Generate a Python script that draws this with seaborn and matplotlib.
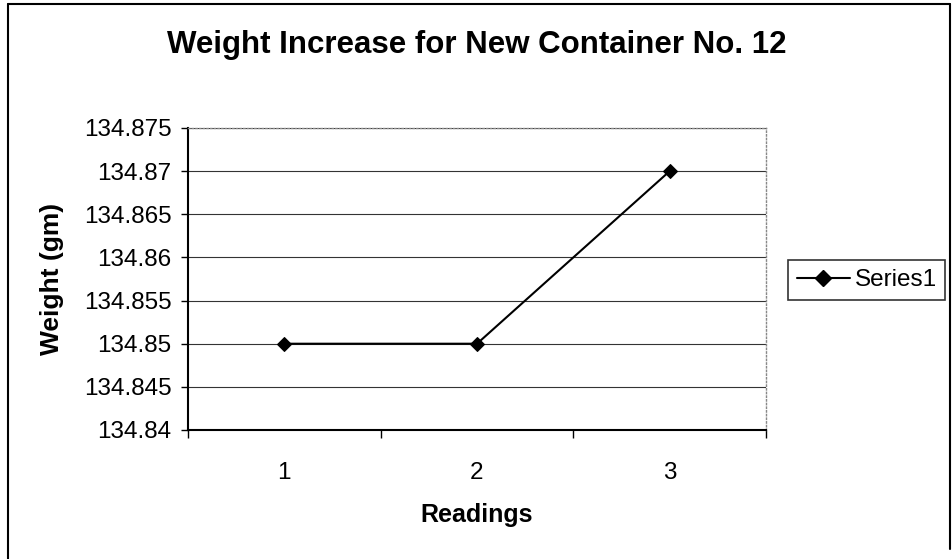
import matplotlib
matplotlib.use("Agg")
import matplotlib.pyplot as plt
import seaborn as sns
import pandas as pd
from matplotlib.lines import Line2D

readings = [1, 2, 3]
weights = [134.85, 134.85, 134.87]
y_ticks = [134.84, 134.845, 134.85, 134.855, 134.86, 134.865, 134.87, 134.875]
y_tick_labels = ["134.84", "134.845", "134.85", "134.855", "134.86", "134.865", "134.87", "134.875"]
series_name = "Series1"

df = pd.DataFrame({"Readings": readings, "Weight": weights, "Series": series_name})

sns.set_style("white")
plt.rcParams['font.family'] = ['Liberation Sans', 'DejaVu Sans']
plt.rcParams['text.color'] = 'black'
plt.rcParams['axes.labelcolor'] = 'black'
plt.rcParams['xtick.color'] = 'black'
plt.rcParams['ytick.color'] = 'black'

fig = plt.figure(figsize=(9.53, 5.59), dpi=100)
ax = fig.add_axes([188/953, 1-430/559, (766-188)/953, (430-128)/559])

sns.lineplot(data=df, x="Readings", y="Weight", ax=ax, color="black", marker="D",
             markersize=7, linewidth=1.5, markeredgecolor="black", legend=False)

ax.set_xlim(0.5, 3.5)
ax.set_ylim(134.84, 134.875)
ax.set_yticks(y_ticks)
ax.set_yticklabels(y_tick_labels, fontsize=17.5)
ax.set_xticks(readings)
ax.set_xticklabels([str(r) for r in readings], fontsize=17.5)
ax.tick_params(axis='x', length=0, pad=23)
ax.tick_params(axis='y', length=5, direction='out', left=True, pad=7, width=1)
# category boundary ticks on x
ax.set_xticks([0.5, 1.5, 2.5, 3.5], minor=True)
ax.tick_params(axis='x', which='minor', length=6, direction='out', bottom=True, width=1)

ax.grid(axis='y', color='#333333', linewidth=0.8)
ax.set_axisbelow(True)
for s in ['top', 'right']:
    ax.spines[s].set_color('#888888')
    ax.spines[s].set_linestyle(':')
    ax.spines[s].set_linewidth(1)
for s in ['left', 'bottom']:
    ax.spines[s].set_color('black')
    ax.spines[s].set_linewidth(1.5)

ax.set_xlabel("Readings", fontsize=18, fontweight='bold', labelpad=14)
ax.set_ylabel("Weight (gm)", fontsize=19, fontweight='bold', labelpad=14)
fig.text(0.5, 1-45/559, "Weight Increase for New Container No. 12", fontsize=22.5,
         fontweight='bold', ha='center', va='center')

handle = Line2D([], [], color='black', marker='D', markersize=8, linewidth=1.5)
leg = fig.legend([handle], [series_name], loc='center left', bbox_to_anchor=(788/953, 1-280/559),
                 fontsize=17.5, frameon=True, fancybox=False, edgecolor='black',
                 handlelength=2.2, handletextpad=0.2, borderpad=0.35, borderaxespad=0)
leg.get_frame().set_linewidth(1.2)

# figure frame lines (left, top, right)
fig.add_artist(Line2D([8/953, 8/953], [0, 1-4/559], color='black', linewidth=1.5, transform=fig.transFigure))
fig.add_artist(Line2D([8/953, 950/953], [1-4/559, 1-4/559], color='black', linewidth=1.5, transform=fig.transFigure))
fig.add_artist(Line2D([950/953, 950/953], [1-4/559, 10/559], color='black', linewidth=1.5, transform=fig.transFigure))

fig.savefig("out.png", dpi=100)
